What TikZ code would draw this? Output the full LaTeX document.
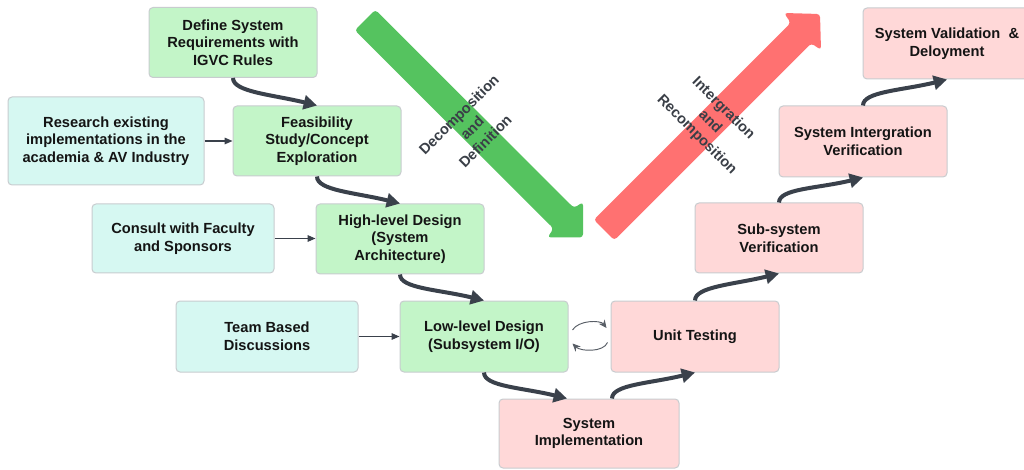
\documentclass[tikz,border=0pt]{standalone}
\usepackage{fontspec}
\setmainfont{Liberation Sans}
\usetikzlibrary{arrows.meta,calc}
\definecolor{gfill}{HTML}{C3F5C8}
\definecolor{cfill}{HTML}{D6F8F2}
\definecolor{pfill}{HTML}{FFD8D8}
\definecolor{bord}{HTML}{C8CCCF}
\definecolor{conn}{HTML}{3A414B}
\definecolor{garrow}{HTML}{55C35F}
\definecolor{rarrow}{HTML}{FF7171}
\definecolor{labc}{HTML}{3A3F47}
\begin{document}
\begin{tikzpicture}[x=0.75pt,y=-0.75pt,
  box/.style={draw=bord, line width=0.75pt, rounded corners=3pt, align=center, inner sep=0pt,
    font=\fontsize{11}{13.3}\selectfont\bfseries, text=black!92},
  gbox/.style={box, fill=gfill, minimum width=126pt, minimum height=52.5pt},
  pbox/.style={box, fill=pfill, minimum width=126pt, minimum height=52.5pt},
  cbox/.style={box, fill=cfill},
  conline/.style={draw=conn, line width=3pt, -{Triangle[length=10pt,width=10.5pt]}},
  thinline/.style={draw=conn, line width=0.8pt, -{Triangle[length=6pt,width=5pt]}},
  loopline/.style={draw=conn!85, line width=0.7pt, -{Stealth[length=6pt,width=5.5pt]}},
  lab/.style={align=center, text=labc, font=\fontsize{11}{14}\selectfont\bfseries}
]
\clip (0,0) rectangle (1024,470);
\fill[white] (0,0) rectangle (1024,470);

% big arrows
\fill[garrow, rounded corners=2.5pt] (375.25,9.75) -- (574,208) -- (583,202) -- (583,237.5) -- (547.5,237.5) -- (553.5,228.5) -- (354.75,30.25) -- cycle;
\fill[rarrow, rounded corners=2.5pt] (593.75,219.75) -- (790.75,22.75) -- (784,13) -- (820,14) -- (821,50) -- (811.25,43.25) -- (614.25,240.25) -- cycle;
\node[lab, rotate=45] (declab) at (472,128) {Decomposition\\and\\Definition};
\node[lab, rotate=-45] (intlab) at (710,122) {Intergration\\and\\Recomposition};

% boxes
\node[gbox] (def) at (233,42.5) {Define System\\Requirements with\\IGVC Rules};
\node[cbox, minimum width=147pt, minimum height=66pt] (res) at (106,141) {Research existing\\implementations in the\\academia \& AV Industry};
\node[gbox] (feas) at (317,141) {Feasibility\\Study/Concept\\Exploration};
\node[cbox, minimum width=136.5pt, minimum height=51.75pt] (cons) at (183,238.5) {Consult with Faculty\\and Sponsors};
\node[gbox] (high) at (400,239) {High-level Design\\(System\\Architecture)};
\node[cbox, minimum width=136.5pt, minimum height=53.25pt] (team) at (267,336.5) {Team Based\\Discussions};
\node[gbox, minimum height=53.25pt] (low) at (484,336.5) {Low-level Design\\(Subsystem I/O)};
\node[pbox, minimum width=135pt, minimum height=51.75pt] (impl) at (589,433.5) {System\\Implementation};
\node[pbox, minimum height=53.25pt] (unit) at (695,336.5) {Unit Testing};
\node[pbox] (sub) at (779,238) {Sub-system\\Verification};
\node[pbox, minimum height=53.25pt] (sint) at (863,141.5) {System Intergration\\Verification};
\node[pbox, minimum height=53.25pt] (sval) at (947,43.5) {System Validation~~\&\\Deloyment};

% thick connectors
\draw[conline] (def.south) .. controls +(0,14) and +(-45,-11) .. (feas.north);
\draw[conline] (feas.south) .. controls +(0,14) and +(-45,-11) .. (high.north);
\draw[conline] (high.south) .. controls +(0,14) and +(-45,-11) .. (low.north);
\draw[conline] (low.south) .. controls +(0,14) and +(-45,-11) .. ($(impl.north)+(-22,0)$);
\draw[conline] ($(impl.north)+(23,0)$) .. controls +(0,-14) and +(-45,11) .. (unit.south);
\draw[conline] (unit.north) .. controls +(0,-14) and +(-45,11) .. (sub.south);
\draw[conline] (sub.north) .. controls +(0,-14) and +(-45,11) .. (sint.south);
\draw[conline] (sint.north) .. controls +(0,-14) and +(-45,11) .. (sval.south);

% thin connectors
\draw[thinline] (res.east) -- (res.east -| feas.west);
\draw[thinline] (cons.east) -- (cons.east -| high.west);
\draw[thinline] (team.east) -- (team.east -| low.west);

% loop arrows
\draw[loopline] ($(low.east)+(4,-6.5)$) .. controls +(6,-10) and +(-6,-8) .. ($(unit.west)+(-4,-8.5)$);
\draw[loopline] ($(unit.west)+(-3,6)$) .. controls +(-4,10) and +(8,8) .. ($(low.east)+(4,7)$);
\end{tikzpicture}
\end{document}
